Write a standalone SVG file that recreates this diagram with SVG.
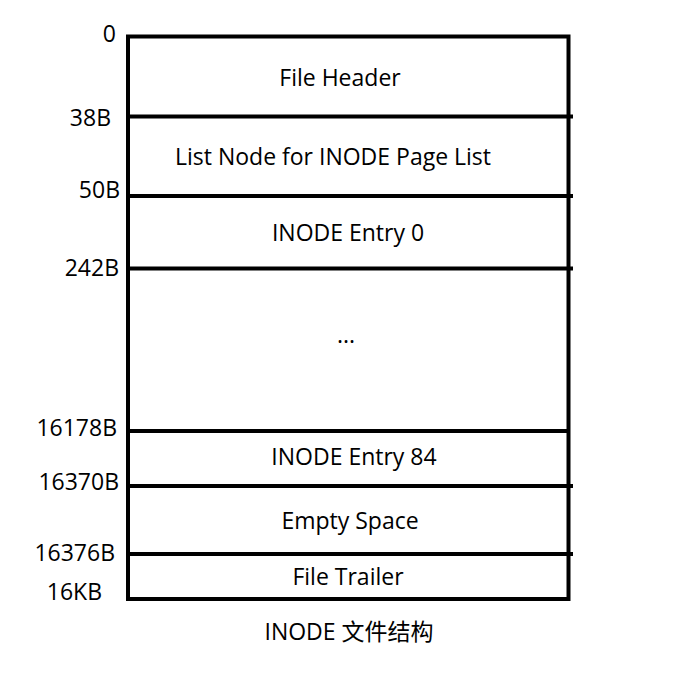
<svg xmlns="http://www.w3.org/2000/svg" width="680" height="684" viewBox="0 0 680 684">
  <style>
    .t { font-family: "Open Sans", "Noto Sans", "Noto Sans CJK SC", sans-serif; font-size: 23px; fill: #000; dominant-baseline: central; }
    .c { text-anchor: middle; }
    .r { text-anchor: end; }
    .sep { stroke: #000; stroke-width: 4; stroke-linecap: butt; fill: none; }
  </style>
  <rect width="680" height="684" fill="#fff"/>

  <!-- page outline and section separators -->
  <g id="connectors">
    <rect x="128" y="36.5" width="440.5" height="562.5" fill="none" stroke="#000" stroke-width="4"/>
    <line class="sep" x1="128" y1="116.5" x2="573" y2="116.5"/>
    <line class="sep" x1="128" y1="196" x2="573" y2="196"/>
    <line class="sep" x1="128" y1="268.5" x2="573" y2="268.5"/>
    <line class="sep" x1="130" y1="431" x2="568" y2="431"/>
    <line class="sep" x1="128" y1="486" x2="573" y2="486"/>
    <line class="sep" x1="128" y1="554" x2="573" y2="554"/>
  </g>

  <!-- offsets -->
  <g id="offsets">
    <text class="t r" x="116" y="33">0</text>
    <text class="t r" x="111" y="117">38B</text>
    <text class="t r" x="120" y="189">50B</text>
    <text class="t r" x="119" y="267">242B</text>
    <text class="t r" x="117" y="427">16178B</text>
    <text class="t r" x="119" y="481">16370B</text>
    <text class="t r" x="115" y="552">16376B</text>
    <text class="t r" x="102" y="591">16KB</text>
  </g>

  <g id="file-header"><text class="t c" x="340" y="77">File Header</text></g>
  <g id="list-node"><text class="t c" x="333" y="156">List Node for INODE Page List</text></g>
  <g id="inode-entry-0"><text class="t c" x="348" y="232">INODE Entry 0</text></g>
  <g id="ellipsis"><text class="t c" x="346" y="334">...</text></g>
  <g id="inode-entry-84"><text class="t c" x="354" y="456">INODE Entry 84</text></g>
  <g id="empty-space"><text class="t c" x="350" y="520">Empty Space</text></g>
  <g id="file-trailer"><text class="t c" x="348" y="576">File Trailer</text></g>
  <g id="caption"><text class="t c" x="349" y="631">INODE 文件结构</text></g>
</svg>
